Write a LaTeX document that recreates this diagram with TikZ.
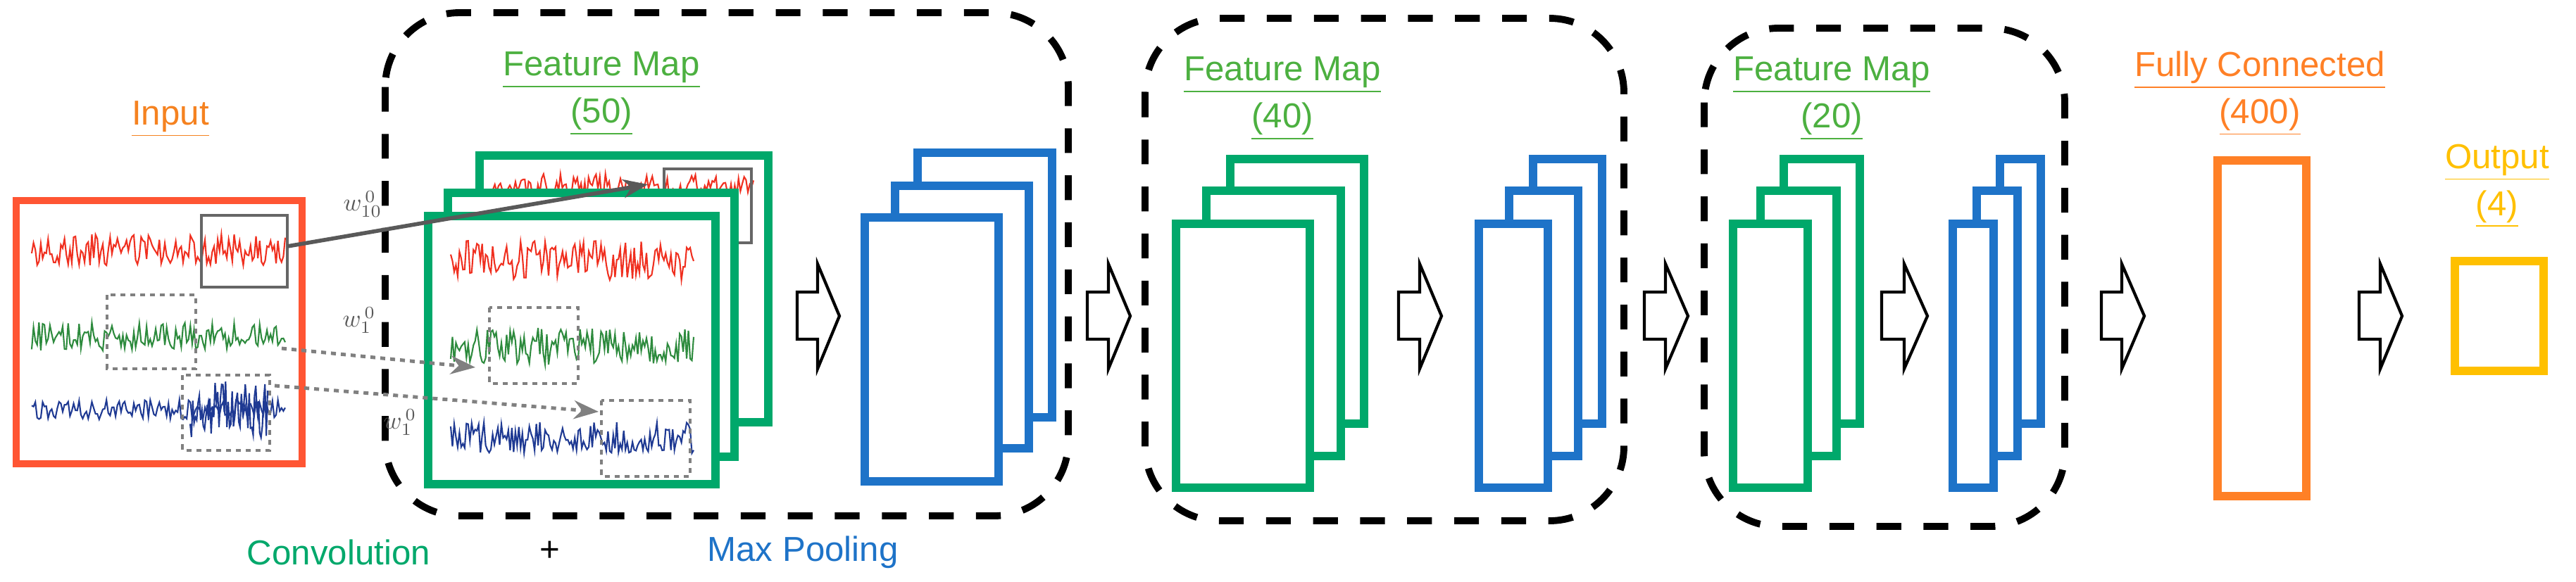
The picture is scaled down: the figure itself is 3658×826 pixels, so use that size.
\documentclass[tikz,border=0pt]{standalone}
\usepackage{fontspec}
\setmainfont{Liberation Sans}
\usetikzlibrary{arrows.meta}
\definecolor{lorange}{HTML}{F58220}
\definecolor{inred}{HTML}{FF5533}
\definecolor{lgreen}{HTML}{4CB040}
\definecolor{fgreen}{HTML}{00A86B}
\definecolor{fblue}{HTML}{1E73C8}
\definecolor{forange}{HTML}{FF8026}
\definecolor{fyellow}{HTML}{FFC000}
\definecolor{wred}{HTML}{F03020}
\definecolor{wgreen}{HTML}{2E8B3E}
\definecolor{wblue}{HTML}{1F3A93}
\tikzset{
  lbl/.style={font=\fontsize{14}{17}\selectfont, align=center, inner sep=0},
  frame/.style={line width=3.4pt, fill=white},
  grp/.style={line width=2.8pt, dash pattern=on 10pt off 9pt, rounded corners=30pt},
  barr/.style={line width=1.2pt, fill=white},
  wave/.style={line width=0.6pt},
  wl/.style={inner sep=0, text=gray!70!black, font=\fontsize{10}{11}\selectfont},
}
\newcommand\barrow[3]{% x0 xmid x1
  \draw[barr] (#1,415) -- (#2,415) -- (#2,375) -- (#3,449) -- (#2,524) -- (#2,482) -- (#1,482) -- cycle;}
\newcommand\wv[5]{% color x0 x1 y amp
  \draw[wave,#1] plot[domain=#2:#3, samples=140] (\x,{#4+#5*rand});}
\begin{document}
\begin{tikzpicture}[x=0.01cm,y=-0.01cm]
\useasboundingbox (0,0) rectangle (3658,826);
\pgfmathsetseed{7}
% group boxes
\draw[grp] (547,18) rectangle (1517,733);
\draw[grp] (1626,26) rectangle (2306,740);
\draw[grp] (2420,40) rectangle (2932,748);
% input
\node[lbl, text=lorange] (inlbl) at (242,169) {\underline{Input}};
\draw[line width=2.8pt, draw=inred, fill=white] (23,285) rectangle (429,659);
\wv{wred}{45}{405}{355}{22}
\wv{wgreen}{45}{405}{478}{20}
\wv{wblue}{45}{405}{582}{14}
\draw[wblue,wave] plot[domain=270:380, samples=60] (\x,{582+40*rand});
\draw[gray!80!black, line width=1.2pt] (286,306) rectangle (408,408);
\draw[gray, line width=1.2pt, dash pattern=on 2pt off 2pt] (152,419) rectangle (278,524);
\draw[gray, line width=1.2pt, dash pattern=on 2pt off 2pt] (259,533) rectangle (383,640);
% feature map 50
\node[lbl, text=lgreen] (fm50) at (854,133) {\underline{Feature Map}\\[2pt]\underline{(50)}};
\draw[frame, draw=fgreen] (681,221) rectangle (1091,600);
\wv{wred}{700}{1070}{265}{18}
\draw[gray!80!black, line width=1.2pt] (943,240) rectangle (1067,345);
\draw[frame, draw=fgreen] (636,274) rectangle (1043,649);
\draw[frame, draw=fgreen] (608,307) rectangle (1016,688);
\wv{wred}{640}{985}{370}{28}
\wv{wgreen}{640}{985}{492}{26}
\wv{wblue}{640}{985}{622}{22}
\draw[gray, line width=1.2pt, dash pattern=on 2pt off 2pt] (695,437) rectangle (821,545);
\draw[gray, line width=1.2pt, dash pattern=on 2pt off 2pt] (854,569) rectangle (980,677);
\coordinate (s1) at (408,350); \coordinate (e1) at (920,262);
\coordinate (s2) at (400,495); \coordinate (e2) at (675,522);
\coordinate (s3) at (390,548); \coordinate (e3) at (850,585);
\draw[gray!70!black, line width=1.6pt, -{Stealth[length=10pt]}] (s1) -- (e1);
\draw[gray, line width=1.4pt, dash pattern=on 2pt off 2pt, -{Stealth[length=10pt]}] (s2) -- (e2);
\draw[gray, line width=1.4pt, dash pattern=on 2pt off 2pt, -{Stealth[length=10pt]}] (s3) -- (e3);
\node[wl] (w1) at (515,290) {$w_{10}^{\,0}$};
\node[wl] (w2) at (510,455) {$w_{1}^{\,0}$};
\node[wl] (w3) at (568,600) {$w_{1}^{\,0}$};
% arrows
\barrow{1132}{1161}{1192}
\barrow{1544}{1574}{1605}
\barrow{1986}{2016}{2047}
\barrow{2335}{2365}{2397}
\barrow{2672}{2704}{2737}
\barrow{2984}{3013}{3045}
\barrow{3350}{3380}{3411}
% pooling 1
\draw[frame, draw=fblue] (1303,217) rectangle (1494,593);
\draw[frame, draw=fblue] (1271,264) rectangle (1461,637);
\draw[frame, draw=fblue] (1228,309) rectangle (1418,684);
% fm 40
\node[lbl, text=lgreen] (fm40) at (1821,140) {\underline{Feature Map}\\[2pt]\underline{(40)}};
\draw[frame, draw=fgreen] (1747,226) rectangle (1937,602);
\draw[frame, draw=fgreen] (1713,271) rectangle (1904,648);
\draw[frame, draw=fgreen] (1670,318) rectangle (1860,693);
\draw[frame, draw=fblue] (2177,226) rectangle (2275,602);
\draw[frame, draw=fblue] (2143,271) rectangle (2241,648);
\draw[frame, draw=fblue] (2100,318) rectangle (2198,693);
% fm 20
\node[lbl, text=lgreen] (fm20) at (2601,140) {\underline{Feature Map}\\[2pt]\underline{(20)}};
\draw[frame, draw=fgreen] (2533,226) rectangle (2641,602);
\draw[frame, draw=fgreen] (2500,271) rectangle (2608,648);
\draw[frame, draw=fgreen] (2461,318) rectangle (2567,693);
\draw[frame, draw=fblue] (2840,226) rectangle (2898,602);
\draw[frame, draw=fblue] (2807,271) rectangle (2865,648);
\draw[frame, draw=fblue] (2773,318) rectangle (2831,693);
% fully connected
\node[lbl, text=forange] (fclbl) at (3209,133) {\underline{Fully Connected}\\[2pt]\underline{(400)}};
\draw[frame, draw=forange] (3149,228) rectangle (3275,705);
% output
\node[lbl, text=fyellow] (outlbl) at (3546,264) {\underline{Output}\\[2pt]\underline{(4)}};
\draw[frame, draw=fyellow] (3486,371) rectangle (3612,527);
% bottom
\node[lbl, text=fgreen] (conv) at (481,785) {Convolution};
\node[lbl] (plus) at (781,783) {+};
\node[lbl, text=fblue] (mp) at (1140,785) {Max Pooling};
\end{tikzpicture}
\end{document}
